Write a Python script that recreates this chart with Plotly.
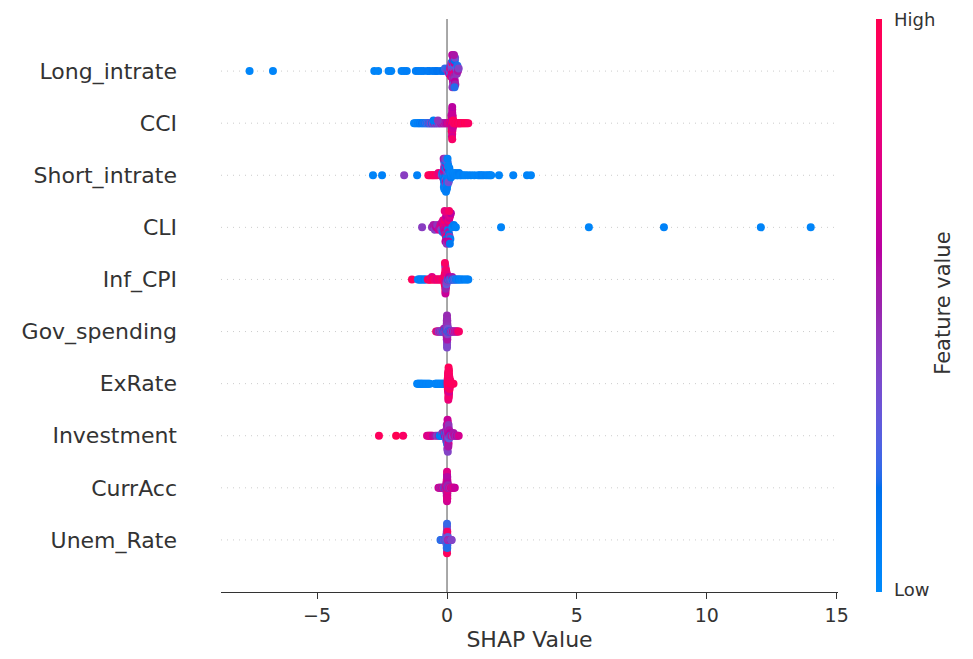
import numpy as np
import plotly.graph_objects as go

# Features, top to bottom (ordered by mean |SHAP|)
features = ["Long_intrate", "CCI", "Short_intrate", "CLI", "Inf_CPI",
            "Gov_spending", "ExRate", "Investment", "CurrAcc", "Unem_Rate"]

x_ticks = [-5, 0, 5, 10, 15]
x_tick_text = ["\u22125", "0", "5", "10", "15"]

# (SHAP value, normalised feature value) per observation
long_intrate = [
    (-7.6, 0.03), (-6.7, 0.04), (-2.8, 0.05), (-2.65, 0.04), (-2.25, 0.06), (-2.15, 0.05), (-1.75, 0.07),
    (-1.65, 0.06), (-1.55, 0.08), (-1.2, 0.08), (-1.1, 0.1), (-1.0, 0.09), (-0.9, 0.1), (-0.75, 0.12),
    (-0.68, 0.11), (-0.55, 0.13), (-0.45, 0.12), (-0.38, 0.15), (-0.25, 0.14), (-0.15, 0.18), (-0.08, 0.22),
    (0.02, 0.45), (0.05, 0.2), (0.08, 0.6), (0.1, 0.4), (0.12, 0.7), (0.12, 0.25), (0.14, 0.5), (0.15, 0.85),
    (0.16, 0.35), (0.17, 0.65), (0.18, 0.4), (0.19, 0.75), (0.2, 0.3), (0.2, 0.55), (0.21, 0.9), (0.22, 0.45),
    (0.22, 0.15), (0.23, 0.65), (0.24, 0.5), (0.24, 0.35), (0.2, 0.6), (0.21, 0.45),
    (0.25, 0.6), (0.25, 0.4), (0.26, 0.8), (0.27, 0.25),
    (0.28, 0.5), (0.28, 0.7), (0.29, 0.45), (0.3, 0.15), (0.3, 0.6), (0.31, 0.35), (0.32, 0.5), (0.27, 0.55),
    (0.29, 0.2), (0.34, 0.7), (0.36, 0.3), (0.38, 0.45), (0.4, 0.2), (0.42, 0.55), (0.45, 0.4),
]

cci = [
    (-1.27, 0.05), (-1.22, 0.08), (-1.17, 0.04), (-1.12, 0.1), (-1.08, 0.06), (-1.05, 0.12), (-1.0, 0.08),
    (-0.96, 0.15), (-0.92, 0.1), (-0.88, 0.2), (-0.84, 0.12), (-0.8, 0.25), (-0.77, 0.1),
    (-0.74, 0.3), (-0.71, 0.15), (-0.68, 0.4), (-0.66, 0.2), (-0.63, 0.35), (-0.6, 0.45), (-0.58, 0.15),
    (-0.55, 0.4), (-0.52, 0.3), (-0.5, 0.5), (-0.47, 0.2), (-0.44, 0.45), (-0.42, 0.35), (-0.39, 0.55),
    (-0.36, 0.25), (-0.33, 0.4), (-0.3, 0.5), (-0.28, 0.3), (-0.25, 0.45), (-0.22, 0.6), (-0.19, 0.35),
    (-0.16, 0.5), (-0.13, 0.65), (-0.1, 0.4), (-0.07, 0.7), (-0.04, 0.5), (-0.52, 0.1), (-0.35, 0.45),
    (0.0, 0.6), (0.03, 0.75), (0.06, 0.55), (0.09, 0.8), (0.11, 0.65), (0.13, 0.9), (0.15, 0.7),
    (0.17, 0.6), (0.17, 0.85), (0.18, 0.7), (0.18, 0.95), (0.18, 0.55), (0.17, 0.65), (0.18, 0.9),
    (0.19, 0.9), (0.19, 0.65), (0.19, 0.95), (0.19, 0.6), (0.19, 0.8), (0.2, 0.7), (0.2, 1.0), (0.2, 0.55),
    (0.2, 0.85), (0.2, 0.65), (0.19, 0.7), (0.2, 0.6), (0.2, 0.9),
    (0.21, 0.95), (0.21, 0.75), (0.21, 0.6), (0.22, 0.9), (0.22, 0.7), (0.21, 0.65),
    (0.23, 0.85), (0.24, 0.95), (0.24, 0.65),
    (0.26, 0.9), (0.28, 0.95), (0.3, 0.85), (0.32, 1.0), (0.35, 0.9), (0.38, 0.95), (0.4, 0.9), (0.43, 1.0),
    (0.46, 0.92), (0.48, 0.95), (0.5, 0.88), (0.53, 1.0), (0.56, 0.93), (0.6, 0.97), (0.64, 0.9), (0.68, 1.0),
    (0.72, 0.95), (0.77, 0.98), (0.82, 0.93),
]

short_intrate = [
    (-2.85, 0.05), (-2.5, 0.06), (-1.65, 0.42), (-1.15, 0.07),
    (-0.72, 0.95), (-0.66, 0.98), (-0.6, 0.92), (-0.55, 1.0), (-0.5, 0.9), (-0.44, 0.96), (-0.38, 0.88),
    (-0.33, 0.8),
    (-0.2, 0.3), (-0.18, 0.1), (-0.16, 0.5),
    (-0.14, 0.1), (-0.13, 0.45), (-0.13, 0.05), (-0.12, 0.7), (-0.12, 0.15), (-0.11, 0.4), (-0.11, 0.08),
    (-0.1, 0.6), (-0.1, 0.2), (-0.09, 0.35), (-0.12, 0.05), (-0.11, 0.3), (-0.1, 0.06), (-0.13, 0.55),
    (-0.08, 0.05), (-0.08, 0.5), (-0.07, 0.12), (-0.07, 0.75), (-0.06, 0.3), (-0.06, 0.06), (-0.05, 0.55),
    (-0.05, 0.1), (-0.04, 0.4), (-0.04, 0.65), (-0.03, 0.08), (-0.06, 0.1), (-0.05, 0.04), (-0.07, 0.4),
    (-0.04, 0.08),
    (-0.02, 0.1), (-0.01, 0.45), (-0.01, 0.04), (0.0, 0.3), (0.0, 0.12), (0.01, 0.6), (0.01, 0.07),
    (0.02, 0.35), (0.02, 0.1), (0.03, 0.2), (0.0, 0.05), (0.01, 0.25), (-0.01, 0.1), (0.02, 0.06),
    (0.04, 0.06), (0.05, 0.3), (0.06, 0.08), (0.07, 0.12), (0.08, 0.05), (0.09, 0.1), (0.06, 0.35),
    (0.05, 0.05),
    (0.11, 0.07), (0.13, 0.05), (0.15, 0.1),
    (0.19, 0.05), (0.23, 0.08), (0.27, 0.04), (0.3, 0.06), (0.34, 0.05), (0.38, 0.07), (0.42, 0.05),
    (0.46, 0.09), (0.5, 0.06), (0.54, 0.05), (0.62, 0.08), (0.7, 0.05), (0.8, 0.06), (0.92, 0.07),
    (1.05, 0.05), (1.2, 0.06), (1.26, 0.05), (1.33, 0.08), (1.4, 0.05), (1.5, 0.07), (1.58, 0.05),
    (1.65, 0.06), (1.7, 0.04), (2.0, 0.05), (2.55, 0.06), (3.08, 0.05), (3.23, 0.04),
]

cli = [
    (-0.96, 0.42),
    (-0.58, 0.45), (-0.52, 0.55), (-0.47, 0.4),
    (-0.42, 0.6), (-0.38, 0.45), (-0.32, 0.7),
    (-0.28, 0.55), (-0.25, 0.7), (-0.22, 0.4), (-0.2, 0.65), (-0.17, 0.2), (-0.15, 0.75),
    (-0.13, 0.7), (-0.12, 0.85), (-0.11, 0.55), (-0.1, 0.75), (-0.09, 0.65), (-0.08, 0.9), (-0.07, 0.5),
    (-0.05, 0.7), (-0.04, 0.8), (-0.03, 0.6), (-0.02, 0.15), (0.0, 0.72), (-0.06, 0.6), (-0.09, 0.8),
    (-0.01, 0.45),
    (0.02, 0.65), (0.03, 0.8), (0.04, 0.1), (0.05, 0.7), (0.06, 0.55), (0.07, 0.85), (0.08, 0.15),
    (0.09, 0.68), (0.1, 0.45), (0.12, 0.75), (0.13, 0.08), (0.15, 0.6), (0.05, 0.62), (0.08, 0.9),
    (0.11, 0.12),
    (0.2, 0.05), (0.26, 0.1), (0.34, 0.06),
    (2.08, 0.05), (5.46, 0.04), (8.35, 0.06), (12.08, 0.05), (14.0, 0.04),
]

inf_cpi = [
    (-1.35, 0.95),
    (-1.12, 0.05), (-1.08, 0.08), (-1.04, 0.06), (-1.0, 0.1), (-0.96, 0.05), (-0.91, 0.08), (-0.86, 0.12),
    (-0.82, 0.06),
    (-0.74, 0.95), (-0.7, 0.9), (-0.68, 1.0), (-0.64, 0.85), (-0.6, 0.95), (-0.58, 0.75), (-0.54, 1.0),
    (-0.5, 0.9), (-0.46, 0.8), (-0.42, 0.95), (-0.38, 0.7), (-0.34, 0.9), (-0.3, 0.98), (-0.26, 0.75),
    (-0.22, 0.92), (-0.18, 0.85), (-0.15, 0.95),
    (-0.12, 0.9), (-0.11, 0.8),
    (-0.1, 0.95), (-0.1, 0.75), (-0.09, 1.0), (-0.09, 0.85), (-0.09, 0.95),
    (-0.08, 0.9), (-0.08, 1.0), (-0.08, 0.7), (-0.07, 0.95), (-0.07, 0.85), (-0.07, 1.0), (-0.07, 0.9),
    (-0.06, 0.75), (-0.06, 0.98), (-0.06, 0.88), (-0.06, 0.95), (-0.07, 0.45), (-0.06, 0.65),
    (-0.08, 0.92),
    (-0.05, 1.0), (-0.05, 0.8), (-0.05, 0.92), (-0.05, 0.7), (-0.04, 0.95), (-0.04, 0.85), (-0.04, 1.0),
    (-0.04, 0.9), (-0.05, 0.5),
    (-0.03, 0.65), (-0.03, 0.95), (-0.03, 0.5), (-0.02, 0.9), (-0.02, 0.3), (-0.02, 0.85),
    (-0.01, 0.6), (-0.01, 0.95), (0.0, 0.4), (0.0, 0.8),
    (0.02, 0.45), (0.04, 0.15), (0.06, 0.5), (0.08, 0.3), (0.08, 0.6), (0.1, 0.2), (0.12, 0.45),
    (0.14, 0.1), (0.16, 0.4), (0.18, 0.25), (0.2, 0.55), (0.22, 0.15), (0.25, 0.35), (0.28, 0.1),
    (0.31, 0.3), (0.34, 0.08), (0.38, 0.2), (0.42, 0.06), (0.46, 0.12), (0.5, 0.05), (0.55, 0.08),
    (0.6, 0.05), (0.66, 0.1), (0.72, 0.06), (0.78, 0.05), (0.82, 0.07),
]

gov_spending = [
    (-0.42, 0.95), (-0.38, 0.5), (-0.35, 0.8), (-0.32, 0.45), (-0.3, 0.4), (-0.27, 0.6), (-0.25, 0.35),
    (-0.22, 0.45), (-0.2, 0.5), (-0.18, 0.3), (-0.16, 0.45), (-0.14, 0.15), (-0.12, 0.4), (-0.12, 0.55),
    (-0.1, 0.2), (-0.09, 0.45), (-0.08, 0.1), (-0.07, 0.5), (-0.06, 0.35), (-0.06, 0.15), (-0.05, 0.45),
    (-0.04, 0.1), (-0.04, 0.5),
    (-0.03, 0.45), (-0.03, 0.6), (-0.03, 0.35),
    (-0.02, 0.5), (-0.02, 0.15), (-0.02, 0.45), (-0.02, 0.65),
    (-0.01, 0.4), (-0.01, 0.1), (-0.01, 0.55), (-0.01, 0.45), (-0.01, 0.7), (-0.01, 0.35), (-0.01, 0.5),
    (-0.01, 0.42),
    (0.0, 0.05), (0.0, 0.45), (0.0, 0.5), (0.0, 0.15), (0.0, 0.4), (0.0, 0.6), (0.0, 0.45), (0.0, 0.55),
    (0.0, 0.35), (0.0, 0.5), (0.0, 0.42), (0.0, 0.48), (0.0, 0.38),
    (0.01, 0.1), (0.01, 0.45), (0.01, 0.5), (0.01, 0.4), (0.01, 0.65), (0.01, 0.45), (0.01, 0.55),
    (0.01, 0.47),
    (0.02, 0.2), (0.02, 0.5), (0.02, 0.4), (0.02, 0.45),
    (0.03, 0.55), (0.03, 0.35),
    (0.04, 0.1), (0.05, 0.4), (0.06, 0.15), (0.07, 0.5), (0.08, 0.08), (0.09, 0.45), (0.1, 0.2),
    (0.12, 0.55), (0.13, 0.1), (0.15, 0.4), (0.17, 0.6), (0.19, 0.3), (0.21, 0.45), (0.24, 0.65),
    (0.27, 0.4), (0.3, 0.7), (0.33, 0.45), (0.36, 0.75), (0.39, 0.55), (0.42, 0.8), (0.46, 0.9),
]

exrate = [
    (-1.15, 0.05), (-1.12, 0.04), (-1.09, 0.06), (-1.06, 0.05), (-1.03, 0.04), (-1.0, 0.06), (-0.97, 0.05),
    (-0.94, 0.07), (-0.9, 0.05), (-0.86, 0.04), (-0.82, 0.06), (-0.78, 0.05), (-0.74, 0.04), (-0.7, 0.06),
    (-0.66, 0.05),
    (-0.46, 0.05), (-0.43, 0.06), (-0.4, 0.04), (-0.37, 0.05), (-0.34, 0.07), (-0.31, 0.05), (-0.28, 0.04),
    (-0.25, 0.06), (-0.22, 0.05), (-0.19, 0.04), (-0.16, 0.06), (-0.13, 0.05), (-0.1, 0.08), (-0.07, 0.05),
    (-0.04, 0.1),
    (0.02, 0.95), (0.02, 0.88), (0.03, 1.0), (0.03, 0.9), (0.03, 0.8),
    (0.04, 0.9), (0.04, 1.0), (0.04, 0.85), (0.04, 0.95), (0.04, 0.92), (0.04, 0.98), (0.04, 0.75),
    (0.04, 0.9),
    (0.05, 0.95), (0.05, 1.0), (0.05, 0.88), (0.05, 0.93), (0.05, 0.97), (0.06, 0.9), (0.06, 1.0),
    (0.06, 0.85), (0.06, 0.95), (0.06, 0.92), (0.05, 0.9), (0.06, 0.97), (0.05, 0.82),
    (0.07, 0.98), (0.07, 0.9), (0.07, 1.0), (0.07, 0.87), (0.07, 0.95), (0.07, 0.93), (0.07, 0.8),
    (0.07, 0.97), (0.07, 0.9), (0.07, 0.94), (0.07, 0.86),
    (0.08, 0.95), (0.08, 1.0), (0.08, 0.9), (0.08, 0.85), (0.08, 0.97), (0.08, 0.92), (0.08, 0.7),
    (0.09, 0.95), (0.09, 0.88), (0.1, 1.0), (0.1, 0.9), (0.1, 0.96),
    (0.11, 0.92), (0.11, 0.98), (0.11, 0.85),
    (0.12, 0.95), (0.13, 0.9),
    (0.16, 0.97), (0.2, 0.93), (0.25, 0.95),
]

investment = [
    (-2.62, 0.95), (-1.96, 1.0), (-1.69, 0.92),
    (-0.77, 0.8), (-0.72, 0.65), (-0.68, 0.75), (-0.64, 0.7), (-0.6, 0.85), (-0.56, 0.65),
    (-0.45, 0.55), (-0.38, 0.4), (-0.32, 0.5),
    (-0.28, 0.1), (-0.25, 0.05), (-0.22, 0.15), (-0.2, 0.08), (-0.18, 0.45), (-0.16, 0.1), (-0.14, 0.05),
    (-0.12, 0.5), (-0.1, 0.12), (-0.08, 0.6), (-0.07, 0.2), (-0.05, 0.45),
    (-0.04, 0.5), (-0.04, 0.3), (-0.03, 0.6), (-0.03, 0.4),
    (-0.02, 0.45), (-0.02, 0.15), (-0.01, 0.55), (-0.01, 0.4), (0.0, 0.65), (0.0, 0.45), (0.0, 0.1),
    (-0.01, 0.5),
    (0.01, 0.5), (0.01, 0.4), (0.01, 0.7), (0.02, 0.45), (0.02, 0.2), (0.02, 0.55), (0.02, 0.35),
    (0.03, 0.6), (0.03, 0.45), (0.03, 0.75), (0.01, 0.45), (0.02, 0.65), (0.03, 0.4),
    (0.04, 0.45), (0.04, 0.55), (0.05, 0.35), (0.05, 0.65), (0.05, 0.5), (0.06, 0.4), (0.06, 0.7),
    (0.06, 0.45), (0.05, 0.55),
    (0.07, 0.5), (0.07, 0.6), (0.08, 0.3), (0.08, 0.55),
    (0.1, 0.45), (0.12, 0.6), (0.14, 0.2), (0.16, 0.5), (0.19, 0.7), (0.22, 0.4), (0.25, 0.55),
    (0.29, 0.65), (0.33, 0.45), (0.37, 0.6), (0.41, 0.5), (0.45, 0.7),
]

curracc = [
    (-0.33, 0.6), (-0.3, 0.75), (-0.27, 0.5), (-0.24, 0.7), (-0.21, 0.45), (-0.19, 0.65), (-0.17, 0.55),
    (-0.15, 0.75), (-0.13, 0.4), (-0.11, 0.7), (-0.1, 0.2), (-0.08, 0.6), (-0.07, 0.75), (-0.06, 0.45),
    (-0.05, 0.15), (-0.04, 0.7),
    (-0.03, 0.6), (-0.03, 0.75), (-0.03, 0.45),
    (-0.02, 0.7), (-0.02, 0.55), (-0.02, 0.8), (-0.02, 0.5),
    (-0.01, 0.65), (-0.01, 0.75), (-0.01, 0.45), (-0.01, 0.8), (-0.01, 0.6), (-0.01, 0.7), (-0.01, 0.55),
    (0.0, 0.1), (0.0, 0.7), (0.0, 0.75), (0.0, 0.55), (0.0, 0.8), (0.0, 0.65), (0.0, 0.72), (0.0, 0.5),
    (0.0, 0.78), (0.0, 0.6), (0.0, 0.68), (0.0, 0.74),
    (0.01, 0.15), (0.01, 0.7), (0.01, 0.6), (0.01, 0.75), (0.01, 0.5), (0.01, 0.8), (0.01, 0.68),
    (0.01, 0.58), (0.01, 0.72),
    (0.02, 0.65), (0.02, 0.45), (0.02, 0.75), (0.02, 0.6),
    (0.03, 0.7), (0.03, 0.5),
    (0.04, 0.2), (0.05, 0.65), (0.06, 0.45), (0.08, 0.75), (0.09, 0.55), (0.11, 0.7), (0.13, 0.4),
    (0.15, 0.75), (0.17, 0.6), (0.19, 0.8), (0.21, 0.55), (0.24, 0.7), (0.27, 0.75), (0.3, 0.65),
]

unem_rate = [
    (-0.25, 0.15), (-0.22, 0.3), (-0.2, 0.1), (-0.18, 0.35), (-0.16, 0.2), (-0.14, 0.05), (-0.12, 0.3),
    (-0.1, 0.25), (-0.09, 0.4), (-0.08, 0.1), (-0.07, 0.35), (-0.06, 0.2), (-0.05, 0.3), (-0.04, 0.15),
    (-0.03, 0.3), (-0.03, 0.35), (-0.03, 0.2),
    (-0.02, 0.35), (-0.02, 0.25), (-0.02, 0.4), (-0.02, 0.3),
    (-0.01, 0.3), (-0.01, 0.2), (-0.01, 0.4), (-0.01, 0.35), (-0.01, 0.25), (-0.01, 0.3), (-0.01, 0.15),
    (0.0, 0.3), (0.0, 0.35), (0.0, 0.25), (0.0, 0.4), (0.0, 0.3), (0.0, 0.35), (0.0, 0.2), (0.0, 0.3),
    (0.0, 0.28), (0.0, 0.38), (0.0, 0.95), (0.0, 0.22),
    (0.01, 0.35), (0.01, 0.3), (0.01, 0.25), (0.01, 0.4), (0.01, 0.3), (0.01, 0.9), (0.01, 0.2),
    (0.02, 0.3), (0.02, 0.35), (0.02, 0.2),
    (0.03, 0.4), (0.03, 0.3),
    (0.04, 0.7), (0.05, 0.35), (0.06, 0.65), (0.08, 0.3), (0.1, 0.75), (0.12, 0.35), (0.14, 0.6),
    (0.16, 0.3), (0.18, 0.4),
]

series = [long_intrate, cci, short_intrate, cli, inf_cpi,
          gov_spending, exrate, investment, curracc, unem_rate]


# Blue -> purple -> red colour scale, interpolated in LCh space
def lch_to_hex(l, c, h):
    a, b = c * np.cos(h), c * np.sin(h)
    fy = (l + 16) / 116
    fx, fz = fy + a / 500, fy - b / 200

    def finv(t):
        return t ** 3 if t > 6 / 29 else 3 * (6 / 29) ** 2 * (t - 4 / 29)

    X, Y, Z = 0.95047 * finv(fx), finv(fy), 1.08883 * finv(fz)
    lin = [3.2406 * X - 1.5372 * Y - 0.4986 * Z,
           -0.9689 * X + 1.8758 * Y + 0.0415 * Z,
           0.0557 * X - 0.2040 * Y + 1.0570 * Z]
    out = []
    for u in lin:
        u = 1.055 * u ** (1 / 2.4) - 0.055 if u > 0.0031308 else 12.92 * u
        out.append(int(round(255 * min(max(u, 0.0), 1.0))))
    return "#%02x%02x%02x" % tuple(out)


nsteps = 100
l_vals = list(np.linspace(54.0, 40.0, nsteps // 2)) + list(np.linspace(40.0, 54.0, nsteps // 2))
c_vals = np.linspace(70.0, 90.0, nsteps)
h_vals = np.linspace(4.6588, 0.35470565 + 2 * np.pi, nsteps)
colorscale = [[float(p), lch_to_hex(l, c, h)]
              for p, l, c, h in zip(np.linspace(0, 1, nsteps), l_vals, c_vals, h_vals)]


def swarm_offsets(vals, row_height=0.4, nbins=100):
    """Vertical jitter: stack points that fall into the same value bin."""
    vals = np.asarray(vals, dtype=float)
    quant = np.round(nbins * (vals - vals.min()) / (vals.max() - vals.min() + 1e-8))
    order = np.argsort(quant, kind="stable")
    ys = np.zeros(len(vals))
    layer, last_bin = 0, -1
    for ind in order:
        if quant[ind] != last_bin:
            layer = 0
        ys[ind] = np.ceil(layer / 2) * ((layer % 2) * 2 - 1)
        layer += 1
        last_bin = quant[ind]
    ys *= 0.9 * (row_height / np.max(ys + 1))
    return ys


fig = go.Figure()
n = len(features)
shapes = []
for i, (name, pts) in enumerate(zip(features, series)):
    pos = n - 1 - i
    sv = np.array([p[0] for p in pts])
    fv = np.array([p[1] for p in pts])
    fig.add_trace(go.Scatter(
        x=sv, y=pos + swarm_offsets(sv), mode="markers", name=name,
        marker=dict(size=8, color=fv, coloraxis="coloraxis", line=dict(width=0)),
        showlegend=False, hoverinfo="skip",
    ))
    shapes.append(dict(type="line", xref="paper", x0=0, x1=1, yref="y", y0=pos, y1=pos,
                       line=dict(color="#cccccc", width=1, dash="1px,5px"), layer="below"))

shapes.append(dict(type="line", xref="x", x0=0, x1=0, yref="paper", y0=0, y1=1,
                   line=dict(color="#999999", width=1.7), layer="below"))

axis_color = "#333333"
font_family = "DejaVu Sans"

# Colour bar labels placed beside the bar
annotations = [
    dict(text="High", xref="paper", yref="paper", x=1.0875, y=1.0, xanchor="left", yanchor="middle",
         showarrow=False, font=dict(size=18, color=axis_color, family=font_family)),
    dict(text="Low", xref="paper", yref="paper", x=1.0875, y=0.005, xanchor="left", yanchor="middle",
         showarrow=False, font=dict(size=18, color=axis_color, family=font_family)),
    dict(text="Feature value", xref="paper", yref="paper", x=1.1702, y=0.503, xanchor="center",
         yanchor="middle", textangle=-90, showarrow=False,
         font=dict(size=21, color=axis_color, family=font_family)),
]

fig.update_layout(
    width=973, height=659,
    margin=dict(l=221, r=135, t=19, b=64),
    paper_bgcolor="white", plot_bgcolor="white",
    font=dict(family=font_family, color=axis_color),
    shapes=shapes,
    annotations=annotations,
    xaxis=dict(
        range=[-8.7, 15.05], showgrid=False, zeroline=False,
        showline=True, linecolor=axis_color, linewidth=1.4,
        ticks="outside", ticklen=6, tickwidth=1.4, tickcolor=axis_color,
        tickvals=x_ticks, ticktext=x_tick_text,
        tickfont=dict(size=19, color=axis_color, family=font_family),
        title=dict(text="SHAP Value", font=dict(size=22, color=axis_color, family=font_family), standoff=6),
    ),
    yaxis=dict(
        range=[-1, n], showgrid=False, zeroline=False, showline=False, ticks="",
        tickvals=list(range(n)), ticktext=features[::-1],
        tickfont=dict(size=22, color=axis_color, family=font_family),
        ticklabelstandoff=43,
    ),
    coloraxis=dict(
        colorscale=colorscale, cmin=0, cmax=1,
        colorbar=dict(
            x=1.0616, xanchor="left", xpad=0, ypad=0,
            y=0.5, yanchor="middle", lenmode="pixels", len=573,
            thickness=6, outlinewidth=0, showticklabels=False, ticks="",
        ),
    ),
)

fig.write_html("out.html")
